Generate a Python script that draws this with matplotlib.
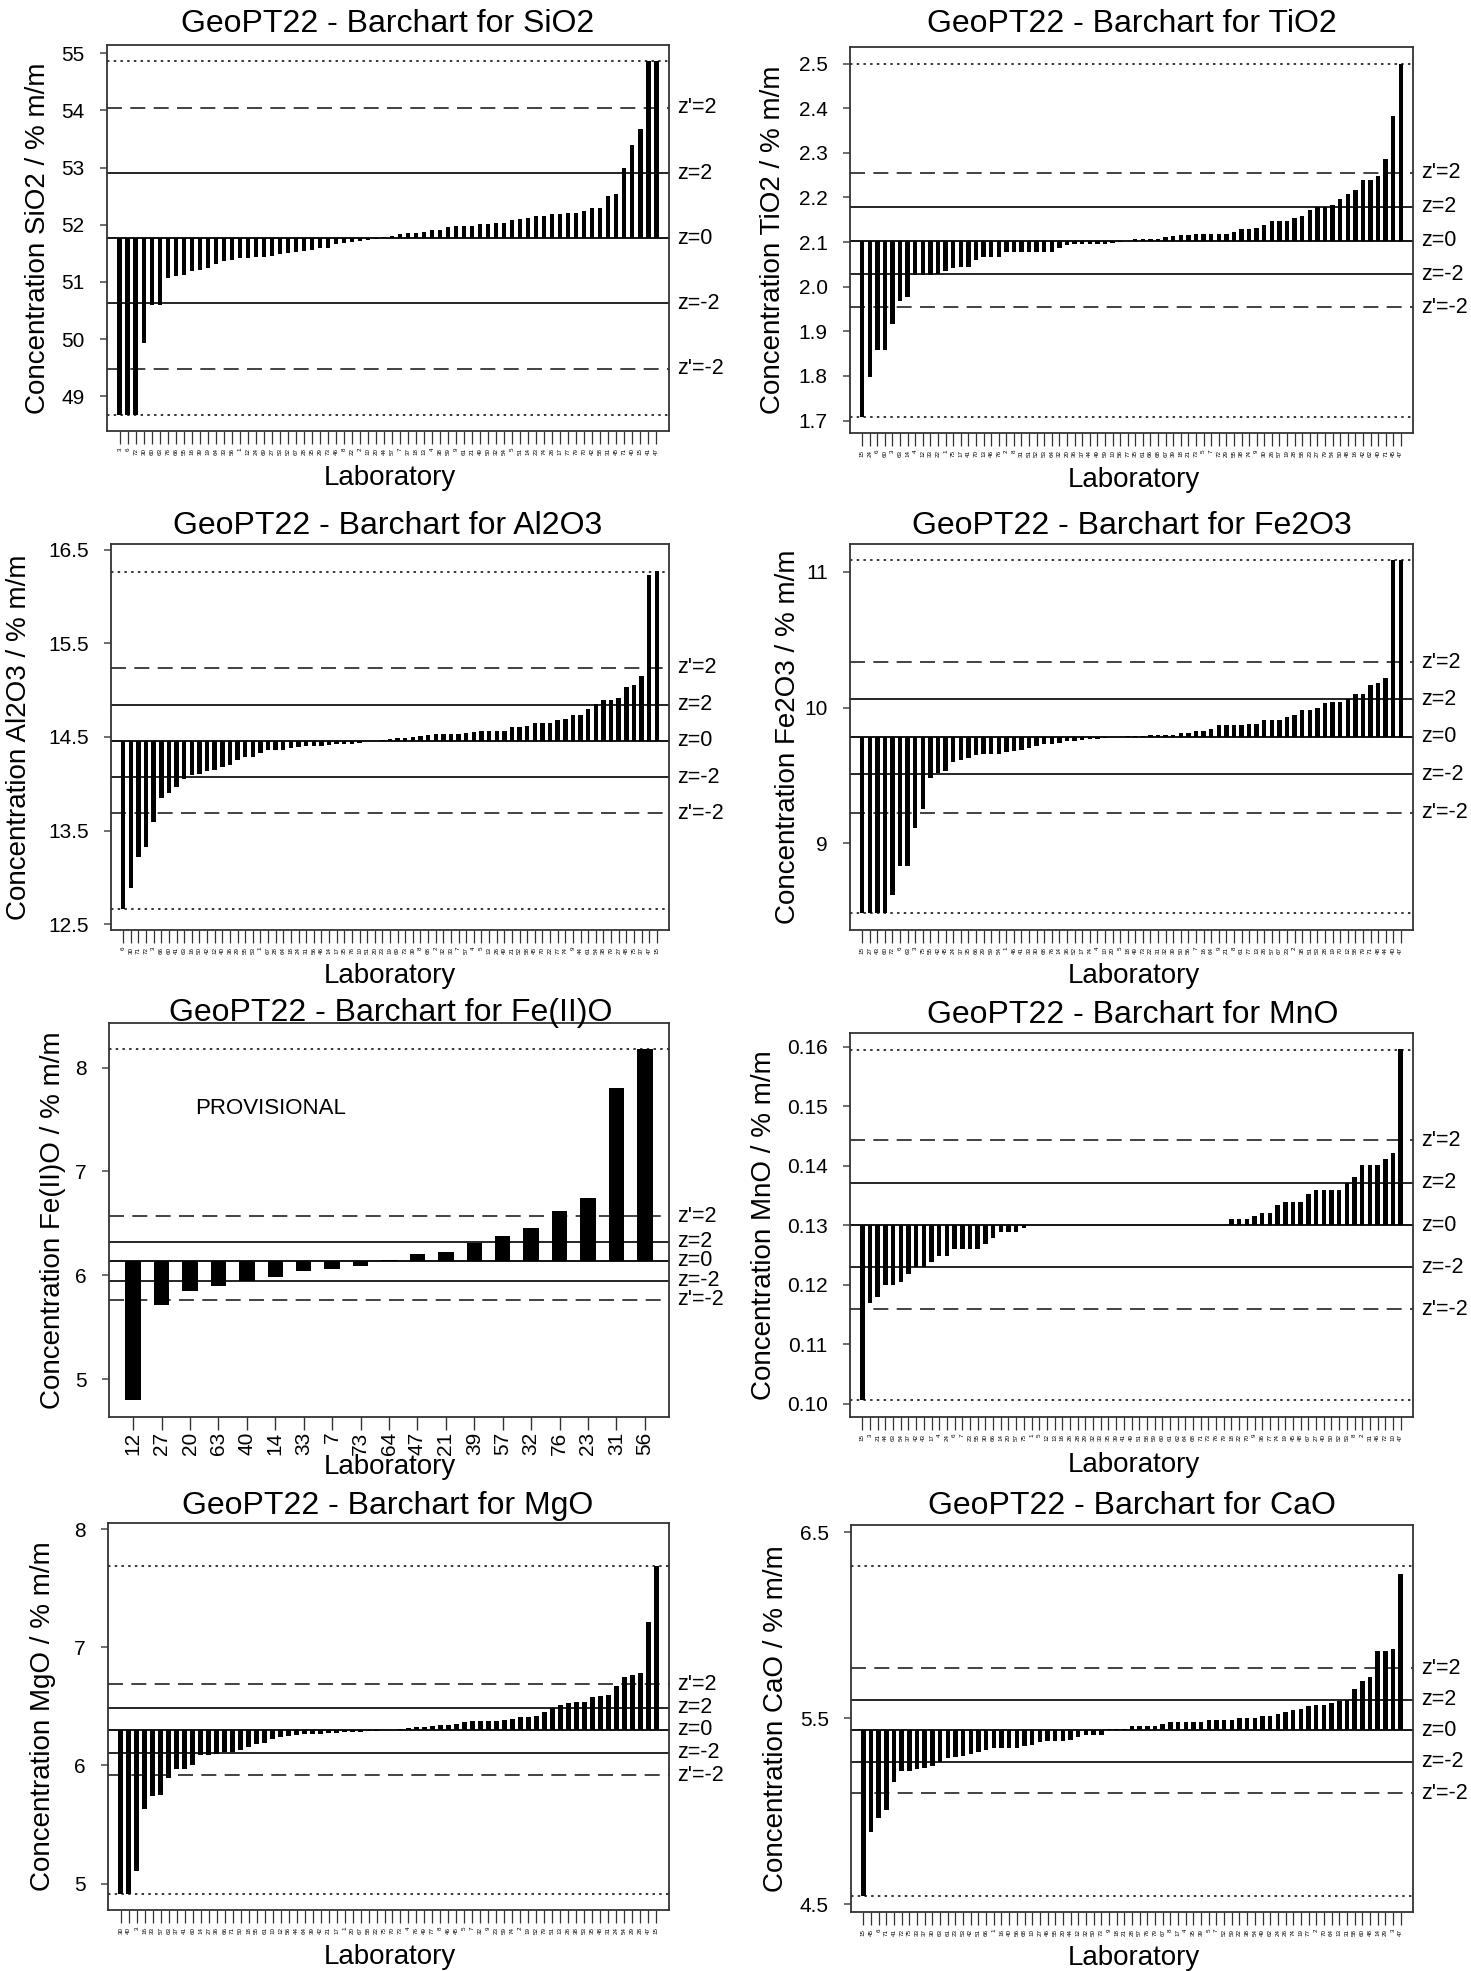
import matplotlib
matplotlib.use("Agg")
import matplotlib.pyplot as plt
import numpy as np
from matplotlib.transforms import blended_transform_factory

plt.rcParams['font.family'] = ['Liberation Sans', 'DejaVu Sans']

# ---------------- data ----------------
labs_sio2 = [3, 6, 72, 30, 60, 63, 76, 66, 55, 16, 39, 19, 64, 33, 56, 1, 12, 24, 69, 27, 53, 52, 67, 28, 35, 29, 73,
             46, 8, 22, 2, 10, 20, 44, 57, 7, 37, 18, 13, 4, 38, 59, 9, 61, 21, 49, 50, 32, 54, 5, 51, 14, 23, 74, 26,
             17, 77, 79, 70, 42, 58, 31, 45, 71, 40, 15, 41, 47]
vals_sio2 = [48.67, 48.67, 48.67, 49.93, 50.59, 50.59, 51.07, 51.10, 51.12, 51.19,
             51.21, 51.25, 51.31, 51.37, 51.38, 51.41, 51.41, 51.44, 51.44, 51.46,
             51.49, 51.51, 51.53, 51.54, 51.55, 51.59, 51.60, 51.67, 51.68, 51.69,
             51.71, 51.73, 51.75, 51.78, 51.81, 51.83, 51.85, 51.85, 51.87, 51.91,
             51.91, 51.96, 51.98, 51.98, 51.98, 52.01, 52.01, 52.03, 52.03, 52.08,
             52.10, 52.12, 52.15, 52.15, 52.18, 52.19, 52.20, 52.20, 52.24, 52.29,
             52.30, 52.51, 52.53, 53.00, 53.40, 53.68, 54.87, 54.87]
ref_sio2 = [51.76, 52.904, 50.628, 54.05, 49.48, 54.866, 48.672]   # z=0, z=2, z=-2, z'=2, z'=-2, max, min

labs_tio2 = [15, 24, 6, 60, 3, 63, 14, 4, 12, 33, 22, 1, 75, 17, 41, 70, 13, 46, 76, 2, 8, 31, 51, 52, 53, 64, 32, 20,
             36, 37, 44, 49, 59, 10, 56, 77, 35, 61, 66, 68, 67, 39, 18, 21, 73, 5, 7, 72, 29, 55, 38, 74, 9, 30, 26,
             57, 19, 28, 58, 23, 27, 79, 54, 50, 48, 16, 42, 62, 40, 71, 45, 47]
vals_tio2 = [1.708, 1.797, 1.858, 1.858, 1.917, 1.967, 1.977, 2.026, 2.026, 2.026,
             2.029, 2.036, 2.042, 2.044, 2.045, 2.060, 2.066, 2.066, 2.066, 2.077,
             2.077, 2.077, 2.077, 2.077, 2.077, 2.077, 2.087, 2.093, 2.096, 2.096,
             2.096, 2.096, 2.096, 2.098, 2.101, 2.102, 2.107, 2.107, 2.107, 2.107,
             2.111, 2.114, 2.116, 2.116, 2.119, 2.119, 2.119, 2.119, 2.119, 2.122,
             2.129, 2.129, 2.131, 2.139, 2.148, 2.148, 2.148, 2.153, 2.158, 2.172,
             2.178, 2.178, 2.184, 2.197, 2.208, 2.217, 2.238, 2.238, 2.248, 2.287,
             2.383, 2.500]
ref_tio2 = [2.103, 2.179, 2.028, 2.255, 1.954, 2.500, 1.708]

labs_al2o3 = [6, 30, 71, 72, 3, 66, 60, 41, 63, 16, 50, 42, 12, 40, 36, 29, 55, 53, 1, 67, 28, 64, 18, 24, 31, 56, 46,
              14, 17, 35, 76, 10, 51, 20, 23, 19, 69, 73, 39, 8, 68, 2, 32, 33, 7, 57, 4, 5, 13, 26, 49, 21, 52, 58,
              45, 70, 22, 77, 74, 9, 44, 61, 54, 38, 79, 27, 48, 75, 37, 47, 15]
vals_al2o3 = [12.66, 12.89, 13.22, 13.32, 13.59, 13.85, 13.90, 13.96, 14.05, 14.09,
              14.10, 14.14, 14.15, 14.18, 14.20, 14.25, 14.29, 14.29, 14.33, 14.36,
              14.36, 14.36, 14.38, 14.39, 14.40, 14.40, 14.40, 14.41, 14.42, 14.42,
              14.42, 14.44, 14.46, 14.46, 14.47, 14.475, 14.486, 14.486, 14.496, 14.51,
              14.52, 14.53, 14.53, 14.53, 14.53, 14.54, 14.55, 14.56, 14.56, 14.56,
              14.565, 14.61, 14.61, 14.62, 14.65, 14.65, 14.65, 14.68, 14.69, 14.73,
              14.74, 14.80, 14.85, 14.90, 14.90, 14.92, 15.03, 15.06, 15.15, 16.23,
              16.27]
ref_al2o3 = [14.461, 14.846, 14.069, 15.238, 13.687, 16.268, 12.657]

labs_fe2o3 = [15, 27, 43, 60, 72, 6, 63, 3, 75, 55, 42, 45, 24, 37, 35, 66, 29, 59, 54, 1, 46, 41, 33, 30, 68, 76, 14,
              36, 52, 17, 74, 4, 10, 20, 5, 18, 49, 73, 22, 31, 32, 39, 50, 56, 7, 16, 64, 9, 21, 8, 61, 77, 13, 26,
              57, 67, 23, 2, 38, 51, 53, 28, 19, 70, 12, 58, 79, 71, 48, 44, 40, 47]
vals_fe2o3 = [8.485, 8.485, 8.485, 8.485, 8.62, 8.836, 8.836, 9.11, 9.253, 9.48,
              9.52, 9.53, 9.60, 9.61, 9.63, 9.65, 9.66, 9.66, 9.66, 9.67,
              9.68, 9.69, 9.70, 9.72, 9.73, 9.73, 9.74, 9.75, 9.75, 9.76,
              9.77, 9.77, 9.775, 9.78, 9.785, 9.79, 9.79, 9.79, 9.80, 9.80,
              9.80, 9.80, 9.81, 9.81, 9.83, 9.83, 9.84, 9.87, 9.87, 9.87,
              9.87, 9.88, 9.88, 9.905, 9.905, 9.91, 9.93, 9.945, 9.985, 9.985,
              10.00, 10.03, 10.04, 10.04, 10.06, 10.10, 10.10, 10.166, 10.18, 10.22,
              11.083, 11.083]
ref_fe2o3 = [9.785, 10.06, 9.508, 10.335, 9.226, 11.083, 8.485]

labs_feo = [12, 27, 20, 63, 40, 14, 33, 7, 73, 64, 47, 21, 39, 57, 32, 76, 23, 31, 56]
vals_feo = [4.795, 5.712, 5.849, 5.894, 5.949, 5.981, 6.042, 6.061, 6.087, 6.147,
            6.202, 6.228, 6.314, 6.375, 6.455, 6.615, 6.744, 7.80, 8.176]
ref_feo = [6.141, 6.324, 5.949, 6.571, 5.763, 8.176, None]

labs_mno = [15, 3, 21, 44, 63, 54, 37, 42, 43, 17, 4, 24, 6, 7, 23, 55, 30, 66, 14, 20, 57, 75, 1, 5, 12, 13, 16, 26,
            28, 29, 32, 33, 35, 39, 41, 49, 51, 58, 59, 60, 61, 62, 64, 68, 71, 73, 76, 79, 18, 22, 70, 9, 36, 77, 74,
            19, 45, 48, 67, 27, 40, 50, 52, 53, 8, 2, 31, 46, 72, 10, 47]
vals_mno = [0.1006, 0.1169, 0.1179, 0.1199, 0.1199, 0.1205, 0.1219, 0.1230, 0.1230, 0.1239,
            0.1249, 0.1249, 0.1260, 0.1260, 0.1260, 0.1260, 0.1269, 0.1279, 0.1289, 0.1289,
            0.1289, 0.1296, 0.1300, 0.1300, 0.1300, 0.1300, 0.1300, 0.1300, 0.1300, 0.1300,
            0.1300, 0.1300, 0.1300, 0.1300, 0.1300, 0.1300, 0.1300, 0.1300, 0.1300, 0.1300,
            0.1300, 0.1300, 0.1300, 0.1300, 0.1300, 0.1300, 0.1300, 0.1300, 0.1311, 0.1311,
            0.1311, 0.1316, 0.1321, 0.1321, 0.1334, 0.1340, 0.1340, 0.1340, 0.1353, 0.1360,
            0.1360, 0.1360, 0.1360, 0.1372, 0.1381, 0.1401, 0.1401, 0.1401, 0.1411, 0.1421,
            0.1596]
ref_mno = [0.1300, 0.13717, 0.12296, 0.14428, 0.1159, 0.15955, 0.10057]

labs_mgo = [30, 40, 3, 16, 33, 57, 63, 37, 41, 60, 14, 27, 36, 66, 71, 50, 18, 55, 61, 10, 12, 56, 44, 64, 39, 42, 21,
            17, 1, 20, 67, 58, 22, 75, 70, 73, 4, 76, 49, 77, 8, 46, 45, 5, 7, 32, 9, 23, 59, 74, 2, 19, 52, 79, 51,
            13, 26, 38, 53, 35, 48, 31, 24, 54, 29, 28, 47, 15]
vals_mgo = [4.915, 4.915, 5.11, 5.635, 5.742, 5.75, 5.897, 5.968, 5.968, 6.00,
            6.086, 6.086, 6.098, 6.112, 6.112, 6.13, 6.157, 6.185, 6.19, 6.22,
            6.239, 6.25, 6.256, 6.262, 6.27, 6.27, 6.276, 6.278, 6.28, 6.283,
            6.283, 6.29, 6.295, 6.30, 6.30, 6.307, 6.318, 6.326, 6.326, 6.335,
            6.34, 6.346, 6.352, 6.369, 6.38, 6.38, 6.38, 6.38, 6.386, 6.397,
            6.408, 6.408, 6.42, 6.448, 6.485, 6.51, 6.527, 6.538, 6.538, 6.575,
            6.586, 6.597, 6.668, 6.744, 6.761, 6.781, 7.215, 7.684]
ref_mgo = [6.301, 6.487, 6.106, 6.685, 5.917, 7.684, 4.915]

labs_cao = [15, 45, 6, 71, 41, 72, 75, 33, 37, 30, 63, 61, 23, 53, 42, 51, 66, 1, 16, 40, 56, 68, 10, 27, 46, 55, 20,
            44, 12, 32, 50, 73, 9, 18, 21, 28, 57, 76, 79, 67, 8, 17, 4, 35, 39, 5, 7, 52, 59, 22, 38, 54, 49, 62, 24,
            26, 74, 19, 77, 2, 70, 64, 13, 31, 58, 60, 48, 14, 29, 3, 47]
vals_cao = [4.545, 4.889, 4.966, 5.006, 5.158, 5.217, 5.217, 5.23, 5.235, 5.244,
            5.266, 5.287, 5.293, 5.296, 5.307, 5.32, 5.329, 5.338, 5.343, 5.343,
            5.343, 5.35, 5.359, 5.374, 5.379, 5.379, 5.379, 5.383, 5.397, 5.408,
            5.408, 5.41, 5.44, 5.44, 5.445, 5.459, 5.459, 5.459, 5.459, 5.472,
            5.479, 5.48, 5.48, 5.48, 5.48, 5.492, 5.492, 5.492, 5.492, 5.50,
            5.50, 5.50, 5.511, 5.511, 5.522, 5.533, 5.544, 5.551, 5.565, 5.569,
            5.573, 5.58, 5.591, 5.598, 5.66, 5.70, 5.72, 5.863, 5.863, 5.872,
            6.274]
ref_cao = [5.436, 5.601, 5.266, 5.770, 5.096, 6.321, 4.545]

analytes = ['SiO2', 'TiO2', 'Al2O3', 'Fe2O3', 'Fe(II)O', 'MnO', 'MgO', 'CaO']
yticks_all = [[49, 50, 51, 52, 53, 54, 55],
              [1.7, 1.8, 1.9, 2.0, 2.1, 2.2, 2.3, 2.4, 2.5],
              [12.5, 13.5, 14.5, 15.5, 16.5],
              [9, 10, 11],
              [5, 6, 7, 8],
              [0.10, 0.11, 0.12, 0.13, 0.14, 0.15, 0.16],
              [5, 6, 7, 8],
              [4.5, 5.5, 6.5]]
ytick_fmt = ['{:.0f}', '{:.1f}', '{:.1f}', '{:.0f}', '{:.0f}', '{:.2f}', '{:.0f}', '{:.1f}']
ylims = [(48.39, 55.146), (1.672, 2.537), (12.436, 16.564), (8.362, 11.204),
         (4.635, 8.43), (0.09778, 0.16235), (4.777, 8.051), (4.459, 6.539)]

# ---------------- layout (pixels) ----------------
W, H = 1471, 1971
frames = [(107, 45, 669, 431), (850, 47, 1413, 433),
          (111, 544, 669, 930), (850, 544, 1413, 930),
          (109, 1023, 669, 1417), (850, 1033, 1413, 1417),
          (108, 1523, 669, 1910), (851, 1525, 1413, 1912)]
title_pos = [(388, 24), (1132, 24), (388, 526), (1132, 526),
             (391, 1013), (1133, 1015), (388, 1506), (1132, 1506)]
xlab_pos = [(390, 478), (1134, 480), (390, 976), (1134, 976),
            (390, 1467), (1134, 1465), (390, 1957), (1134, 1958)]
ylab_x = [38, 773, 19, 788, 53, 764, 43, 776]

fig = plt.figure(figsize=(W / 100, H / 100), dpi=100)

datasets = [(labs_sio2, vals_sio2, ref_sio2), (labs_tio2, vals_tio2, ref_tio2),
            (labs_al2o3, vals_al2o3, ref_al2o3), (labs_fe2o3, vals_fe2o3, ref_fe2o3),
            (labs_feo, vals_feo, ref_feo), (labs_mno, vals_mno, ref_mno),
            (labs_mgo, vals_mgo, ref_mgo), (labs_cao, vals_cao, ref_cao)]

for k, (labs, vals, ref) in enumerate(datasets):
    l, t, r, b = frames[k]
    ax = fig.add_axes([l / W, 1 - b / H, (r - l) / W, (b - t) / H])
    n = len(labs)
    x = np.arange(n)
    v = np.array(vals)
    z0, z2, zm2, zp2, zpm2, hi, lo = ref
    few = n < 30
    bw = 0.54 if few else 0.58
    ax.bar(x, v - z0, bottom=z0, width=bw, color='black', linewidth=0, zorder=3)

    ax.axhline(z0, color='black', lw=1.3, zorder=2)
    ax.axhline(z2, color='black', lw=1.2, zorder=2)
    ax.axhline(zm2, color='black', lw=1.2, zorder=2)
    ax.axhline(zp2, color='#222222', lw=1.2, linestyle=(0, (9, 5)), zorder=2)
    ax.axhline(zpm2, color='#222222', lw=1.2, linestyle=(0, (9, 5)), zorder=2)
    if hi is not None:
        ax.axhline(hi, color='black', lw=1.1, linestyle=(0, (1.6, 2.8)), zorder=2)
    if lo is not None:
        ax.axhline(lo, color='black', lw=1.1, linestyle=(0, (1.6, 2.8)), zorder=2)

    trans = blended_transform_factory(ax.transAxes, ax.transData)
    xoff = 1 + 8 / (r - l)
    for val, lab in [(zp2, "z'=2"), (z2, "z=2"), (z0, "z=0"), (zm2, "z=-2"), (zpm2, "z'=-2")]:
        ax.text(xoff, val, lab, transform=trans, ha='left', va='center',
                fontsize=15.5, clip_on=False)

    if few:
        ax.set_xlim(-0.85, n - 0.15)
    else:
        ax.set_xlim(-1.6, n - 1 + 1.6)
    ax.set_ylim(*ylims[k])

    ax.set_xticks(x)
    if few:
        ax.set_xticklabels([str(s) for s in labs], rotation=90, fontsize=15)
        ax.tick_params(axis='x', length=9, width=1.0, pad=1.5, color='#333333')
    else:
        ax.set_xticklabels([str(s) for s in labs], rotation=90, fontsize=4.5)
        ax.tick_params(axis='x', length=9, width=0.9, pad=3, color='#333333')
    yt = yticks_all[k]
    ax.set_yticks(yt)
    ax.set_yticklabels([ytick_fmt[k].format(y) for y in yt])
    ax.tick_params(axis='y', length=5, width=1.2, pad=11, labelsize=15, color='#555555')
    for sp in ax.spines.values():
        sp.set_color('#333333')
        sp.set_linewidth(1.3)

    if k == 4:
        ax.text(0.154, 0.784, 'PROVISIONAL', transform=ax.transAxes, fontsize=16,
                ha='left', va='center')

    cx, cy = title_pos[k]
    fig.text(cx / W, 1 - cy / H, 'GeoPT22 - Barchart for ' + analytes[k],
             ha='center', va='center', fontsize=23)
    lx, ly = xlab_pos[k]
    fig.text(lx / W, 1 - ly / H, 'Laboratory', ha='center', va='center', fontsize=20)
    fig.text(ylab_x[k] / W, 1 - (t + b) / 2 / H, 'Concentration ' + analytes[k] + ' / % m/m',
             rotation=90, ha='center', va='center', fontsize=20)

fig.savefig('out.png', dpi=100, facecolor='white')
